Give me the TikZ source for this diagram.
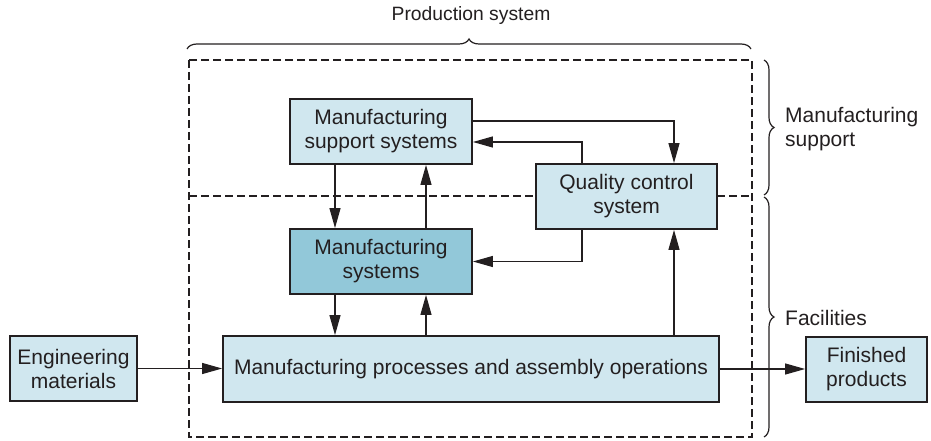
\documentclass[tikz,border=0pt]{standalone}
\usepackage{fontspec}
\setmainfont{Liberation Sans}
\usetikzlibrary{arrows.meta,decorations.pathreplacing,calc}
\definecolor{ink}{HTML}{231F20}
\definecolor{lightfill}{HTML}{D0E7EF}
\definecolor{darkfill}{HTML}{92C8D9}
\begin{document}
\begin{tikzpicture}[x=1pt,y=-1pt,
  font=\fontsize{21}{24}\selectfont,
  box/.style={draw=ink,line width=1.8pt,fill=lightfill,text=ink,align=center,inner sep=0pt},
  arr/.style={draw=ink,line width=1.2pt,-{Triangle[length=20pt,width=11pt]}},
  dashbox/.style={draw=ink,line width=1.1pt,dash pattern=on 8pt off 4pt},
  bracestyle/.style={draw=ink,line width=1.2pt,decorate,decoration={brace,amplitude=10pt}},
  lbl/.style={text=ink,inner sep=0pt}]
\useasboundingbox (0,0) rectangle (931,441);
% dashed production system frame
\draw[dashbox] (189,60) rectangle (752,437);
\coordinate (divL) at (189,196);
\coordinate (divR) at (752,196);
\draw[dashbox] (divL) -- (divR);
% boxes
\node[box,minimum width=182pt,minimum height=65pt] (sup) at (381,131.5) {Manufacturing\\support systems};
\node[box,fill=darkfill,minimum width=182pt,minimum height=65pt] (msys) at (381,261.5) {Manufacturing\\systems};
\node[box,minimum width=181pt,minimum height=65pt] (qc) at (626.5,196.5) {Quality control\\system};
\node[box,minimum width=496pt,minimum height=66pt] (proc) at (471,369) {Manufacturing processes and assembly operations};
\node[box,minimum width=127pt,minimum height=65pt] (eng) at (73.5,368.5) {Engineering\\materials};
\node[box,minimum width=121pt,minimum height=65pt] (fin) at (866.5,369.5) {Finished\\products};
% connectors
\draw[arr] ([yshift=10.5pt]sup.east) -| ([xshift=47.5pt]qc.north);
\draw[arr] ([xshift=-44.5pt]qc.north) |- ([yshift=-10.5pt]sup.east);
\draw[arr] ([xshift=-46pt]sup.south) -- ([xshift=-46pt]msys.north);
\draw[arr] ([xshift=45pt]msys.north) -- ([xshift=45pt]sup.south);
\draw[arr] ([xshift=-44.5pt]qc.south) |- (msys.east);
\draw[arr] ([xshift=203pt]proc.north) -- ([xshift=47.5pt]qc.south);
\draw[arr] ([xshift=-46pt]msys.south) -- ([xshift=-46pt]msys.south |- proc.north);
\draw[arr] ([xshift=45pt]msys.south |- proc.north) -- ([xshift=45pt]msys.south);
\draw[arr] (eng.east) -- (eng.east -| proc.west);
\draw[arr] (proc.east) -- (proc.east -| fin.west);
% braces
\coordinate (btl) at (187,49);
\coordinate (btr) at (751,49);
\draw[bracestyle] (btl) -- (btr);
\node[lbl,font=\fontsize{19.3}{23}\selectfont] (prodsys) at (471,16) {Production system};
\coordinate (bu1) at (764,60);
\coordinate (bu2) at (764,195);
\coordinate (bl1) at (764,197);
\coordinate (bl2) at (764,437);
\draw[bracestyle] (bu1) -- (bu2);
\draw[bracestyle] (bl1) -- (bl2);
\node[lbl,anchor=west,align=left] (msup) at (785,129) {Manufacturing\\support};
\node[lbl,anchor=west] (facil) at (785,318) {Facilities};
\end{tikzpicture}
\end{document}
